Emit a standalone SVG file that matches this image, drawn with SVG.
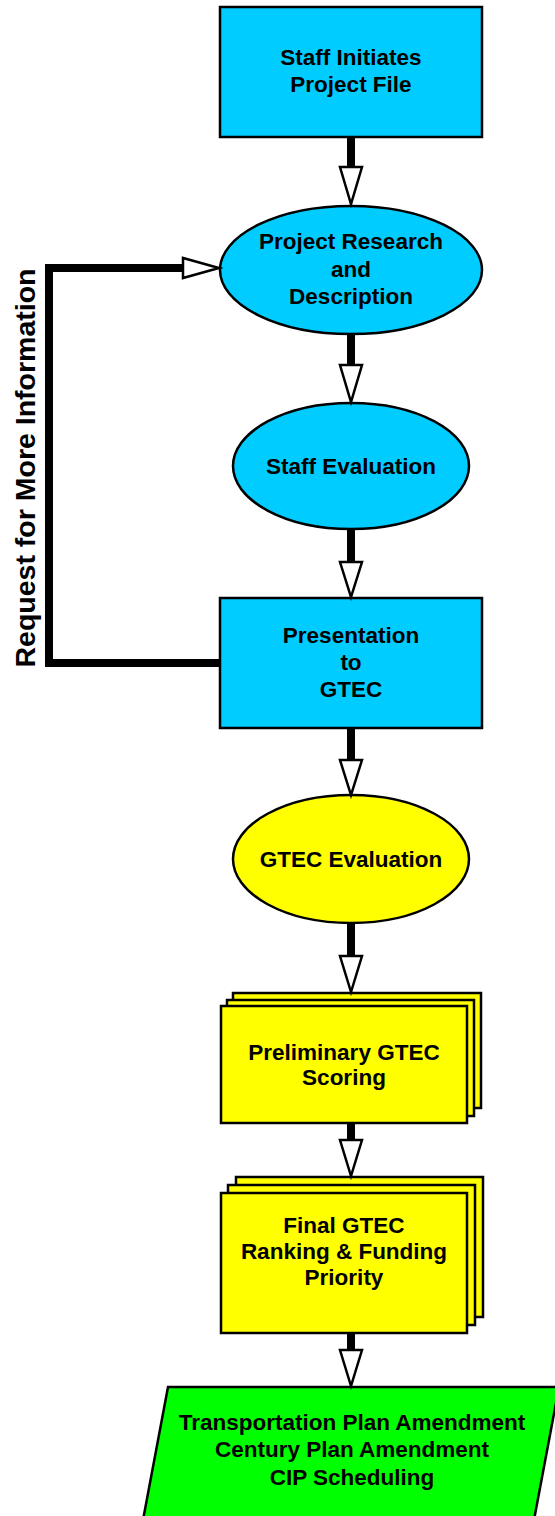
<svg xmlns="http://www.w3.org/2000/svg" width="555" height="1516" viewBox="0 0 555 1516">
<style>
  .lbl { font-family: "Liberation Sans", Arial, sans-serif; font-weight: bold; font-size: 22.5px; fill: #000; text-anchor: middle; }
  .side { font-family: "Liberation Sans", Arial, sans-serif; font-weight: bold; font-size: 28.5px; fill: #000; text-anchor: middle; }
  .cyan { fill: #00CCFF; stroke: #000; stroke-width: 2.5; }
  .yel { fill: #FFFF00; stroke: #000; stroke-width: 2.5; }
  .grn { fill: #00FF00; stroke: #000; stroke-width: 2.5; }
  .shaft { fill: none; stroke: #000; stroke-width: 8; stroke-linejoin: miter; }
  .head { fill: #fff; stroke: #000; stroke-width: 2.5; stroke-linejoin: miter; }
</style>
<rect width="555" height="1516" fill="#fff"/>

<g id="node-staff-initiates">
  <rect class="cyan" x="220" y="7" width="262" height="130"/>
  <text class="lbl" x="351" y="65">Staff Initiates</text>
  <text class="lbl" x="351" y="92">Project File</text>
</g>

<g id="node-project-research">
  <ellipse class="cyan" cx="351" cy="270" rx="131" ry="64"/>
  <text class="lbl" x="351" y="249">Project Research</text>
  <text class="lbl" x="351" y="277">and</text>
  <text class="lbl" x="351" y="304">Description</text>
</g>

<g id="node-staff-evaluation">
  <ellipse class="cyan" cx="351" cy="466" rx="118" ry="63"/>
  <text class="lbl" x="351" y="474">Staff Evaluation</text>
</g>

<g id="node-presentation">
  <rect class="cyan" x="220" y="598" width="262" height="130"/>
  <text class="lbl" x="351" y="643">Presentation</text>
  <text class="lbl" x="351" y="670">to</text>
  <text class="lbl" x="351" y="697">GTEC</text>
</g>

<g id="node-gtec-evaluation">
  <ellipse class="yel" cx="351" cy="859" rx="118" ry="64"/>
  <text class="lbl" x="351" y="867">GTEC Evaluation</text>
</g>

<g id="node-preliminary-scoring">
  <rect class="yel" x="233" y="993" width="248" height="115"/>
  <rect class="yel" x="227" y="1000" width="247" height="116"/>
  <rect class="yel" x="221" y="1006" width="246" height="117"/>
  <text class="lbl" x="344" y="1060">Preliminary GTEC</text>
  <text class="lbl" x="344" y="1085">Scoring</text>
</g>

<g id="node-final-ranking">
  <rect class="yel" x="236" y="1177" width="247" height="140"/>
  <rect class="yel" x="228" y="1185" width="247" height="140"/>
  <rect class="yel" x="221" y="1193" width="246" height="140"/>
  <text class="lbl" x="344" y="1233">Final GTEC</text>
  <text class="lbl" x="344" y="1259">Ranking &amp; Funding</text>
  <text class="lbl" x="344" y="1285">Priority</text>
</g>

<g id="node-outputs">
  <polygon class="grn" points="168,1387 559,1387 534,1520 143,1520"/>
  <text class="lbl" x="352" y="1430">Transportation Plan Amendment</text>
  <text class="lbl" x="352" y="1457">Century Plan Amendment</text>
  <text class="lbl" x="352" y="1485">CIP Scheduling</text>
</g>

<g id="connectors">
  <line class="shaft" x1="351" y1="137" x2="351" y2="168"/>
  <polygon class="head" points="340,167 362,167 351,204"/>

  <line class="shaft" x1="351" y1="334" x2="351" y2="366"/>
  <polygon class="head" points="340,365 362,365 351,402"/>

  <line class="shaft" x1="351" y1="529" x2="351" y2="563"/>
  <polygon class="head" points="340,562 362,562 351,597"/>

  <line class="shaft" x1="351" y1="728" x2="351" y2="761"/>
  <polygon class="head" points="340,760 362,760 351,795"/>

  <line class="shaft" x1="351" y1="923" x2="351" y2="957"/>
  <polygon class="head" points="340,956 362,956 351,992"/>

  <line class="shaft" x1="351" y1="1123" x2="351" y2="1141"/>
  <polygon class="head" points="340,1140 362,1140 351,1176"/>

  <line class="shaft" x1="351" y1="1333" x2="351" y2="1351"/>
  <polygon class="head" points="340,1350 362,1350 351,1386"/>

  <path class="shaft" d="M220,663 H49 V268 H184"/>
  <polygon class="head" points="183,258 183,278 219,268"/>
</g>

<g id="label-request">
  <text class="side" transform="translate(35,468) rotate(-90)">Request for More Information</text>
</g>
</svg>
